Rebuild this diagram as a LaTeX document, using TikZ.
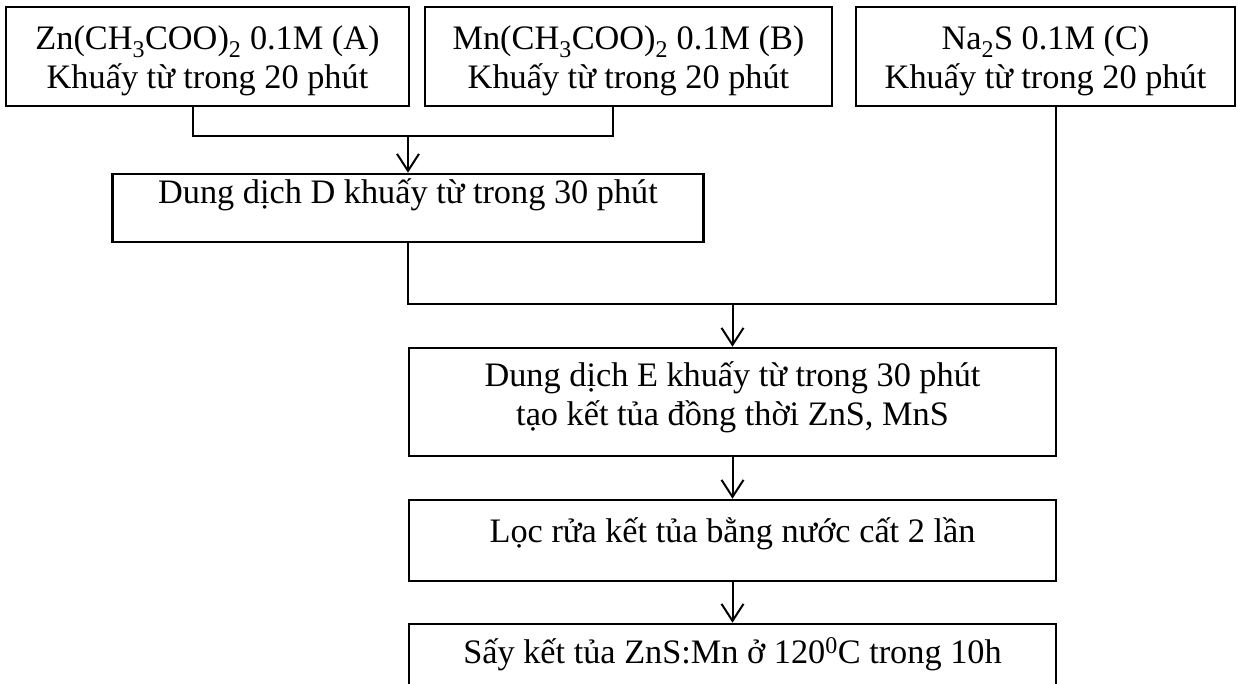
\documentclass[tikz,border=0pt]{standalone}
\usepackage{fontspec}
\setmainfont{Liberation Serif}
\usetikzlibrary{arrows.meta}
\newcommand{\boxfont}{\fontsize{34.3}{39}\selectfont}
\tikzset{
  stepbox/.style={draw, line width=2.6pt, inner sep=0pt, align=center, font=\boxfont},
  link/.style={line width=2pt},
  flow/.style={line width=2pt, -{Straight Barb[length=17pt,width=22pt]}},
}
\begin{document}
\begin{tikzpicture}[x=1pt, y=-1pt]
  \useasboundingbox (0,0) rectangle (1238,683);
  % starting solutions
  \node[stepbox, minimum width=403, minimum height=99] (A) at (207.5,56.5)
    {\rule{0pt}{33pt}Zn(CH\textsubscript{3}COO)\textsubscript{2} 0.1M (A)\\Khuấy từ trong 20 phút};
  \node[stepbox, minimum width=407, minimum height=99] (B) at (628.5,56.5)
    {\rule{0pt}{33pt}Mn(CH\textsubscript{3}COO)\textsubscript{2} 0.1M (B)\\Khuấy từ trong 20 phút};
  \node[stepbox, minimum width=379, minimum height=99] (C) at (1045.5,56.5)
    {\rule{0pt}{33pt}Na\textsubscript{2}S 0.1M (C)\\Khuấy từ trong 20 phút};

  % mixing steps
  \node[stepbox, minimum width=591, minimum height=68, text height=24, text depth=34] (D) at (408,208)
    {Dung dịch D khuấy từ trong 30 phút};
  \node[stepbox, minimum width=647, minimum height=108] (E) at (732.5,402)
    {Dung dịch E khuấy từ trong 30 phút\\tạo kết tủa đồng thời ZnS, MnS\rule[-17pt]{0pt}{0pt}};
  \node[stepbox, minimum width=647, minimum height=81, text height=24, text depth=21] (F) at (732.5,540.5)
    {Lọc rửa kết tủa bằng nước cất 2 lần};
  \node[stepbox, minimum width=647, minimum height=81, text height=24, text depth=27] (G) at (732.5,664.5)
    {Sấy kết tủa ZnS:Mn ở 120\textsuperscript{0}C trong 10h};

  % connectors
  \coordinate (cA) at (193,136);
  \coordinate (cB) at (613,136);
  \coordinate (cC) at (1056,304);
  \draw[link] (A.south -| cA) -- (cA) -- (cB) -- (B.south -| cB);
  \draw[flow] (D.north |- cA) -- (D.north);
  \draw[link] (D.south) |- (cC) -- (C.south -| cC);
  \draw[flow] (E.north |- cC) -- (E.north);
  \draw[flow] (E) -- (F);
  \draw[flow] (F) -- (G);
\end{tikzpicture}
\end{document}
